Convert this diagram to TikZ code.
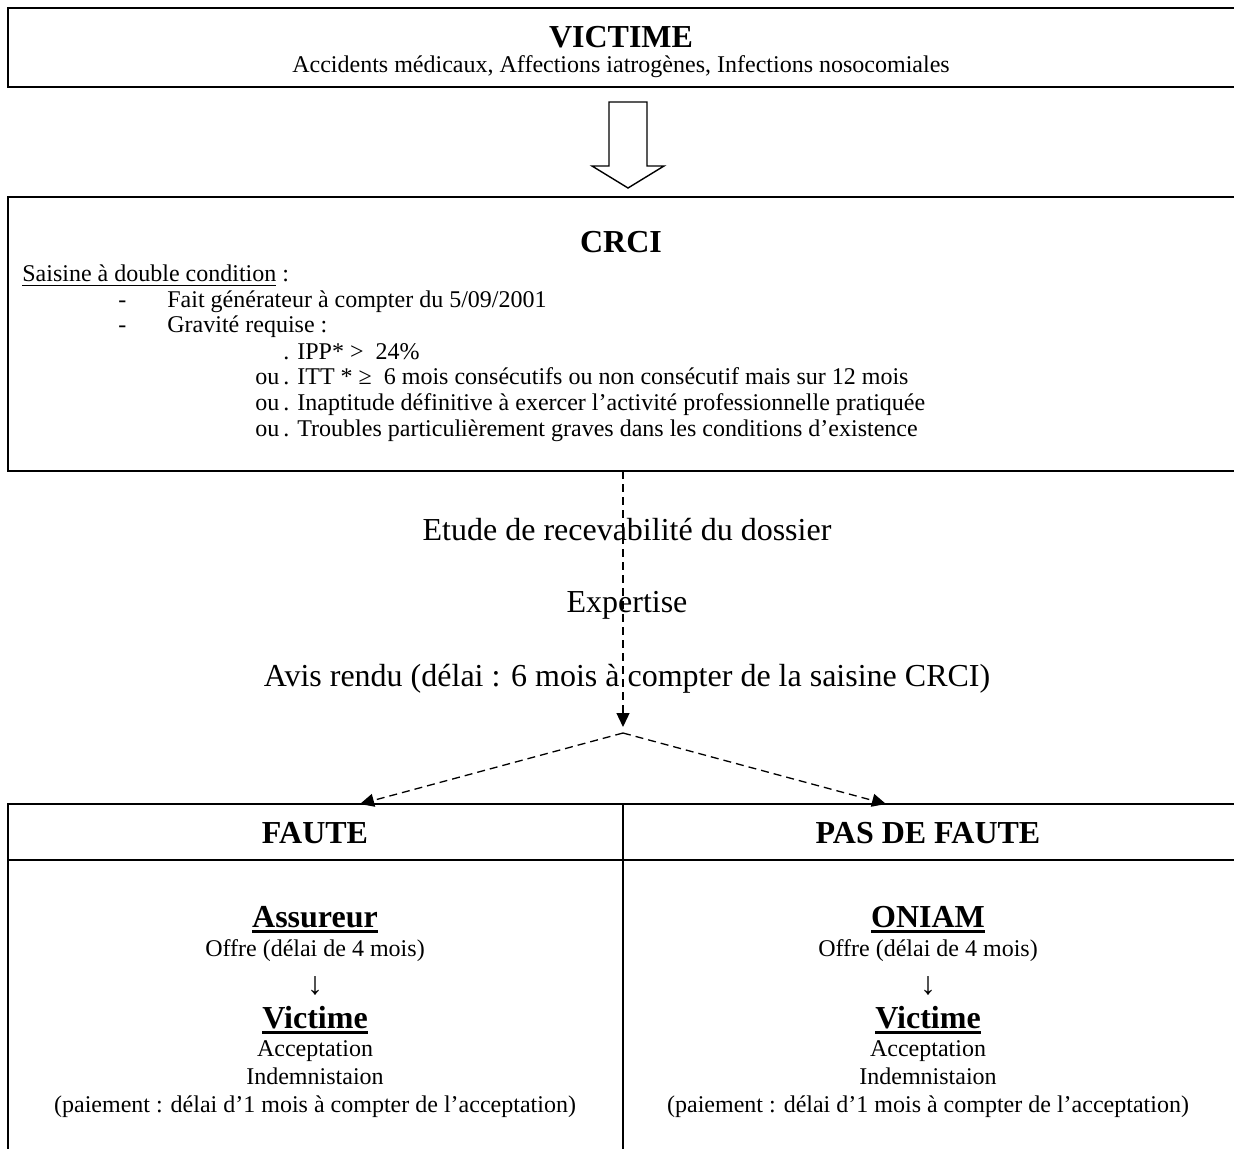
\documentclass[tikz,border=0pt]{standalone}
\usepackage{fontspec}
\setmainfont{Liberation Serif}
\usetikzlibrary{arrows.meta,positioning}

\newcommand{\uword}[2][0.6pt]{\setbox0\hbox{#2}\leavevmode\rlap{\vrule width\wd0 height -1.5pt depth \dimexpr1.5pt+#1\relax}\box0}

\begin{document}
\begin{tikzpicture}[
  x=0.5pt, y=-0.5pt,
  boxline/.style={line width=1pt},
  dashline/.style={line width=0.65pt, dash pattern=on 4pt off 2.5pt},
  arr/.style={-{Triangle[length=7pt, width=6.5pt]}},
  txt/.style={font=\fontsize{12}{14}\selectfont, inner sep=0pt},
  stage/.style={font=\fontsize{16}{19}\selectfont, inner sep=0pt},
  heading/.style={font=\fontsize{16}{19}\selectfont\bfseries, inner sep=0pt},
  downarr/.style={font=\fontsize{16}{19}\selectfont, inner sep=0pt},
]
  \path[use as bounding box, fill=white] (0,0) rectangle (1234,1149);

  % Victime
  \draw[boxline] (1234,8) -| (8,87) -- (1234,87);
  \node[heading, anchor=base] (victime) at (621,48) {VICTIME};
  \node[txt, anchor=base] (causes) at (621,73) {Accidents médicaux, Affections iatrogènes, Infections nosocomiales};

  % hollow arrow
  \draw[line width=0.7pt, line join=miter] (609,102) -- (647,102) -- (647,166) -- (664,166)
    -- (628,188) -- (592,166) -- (609,166) -- cycle;

  % CRCI
  \draw[boxline] (1234,197) -| (8,471) -- (1234,471);
  \node[heading, anchor=base] (crci) at (621,253) {CRCI};
  \node[txt, anchor=base west] (saisine) at (22,282) {\uword{Saisine à double condition}~:};
  \node[txt, anchor=base west] (fait) at (118,308) {\makebox[24.5pt][l]{-}Fait générateur à compter du 5/09/2001};
  \node[txt, anchor=base west] (gravite) at (118,333) {\makebox[24.5pt][l]{-}Gravité requise :};
  \node[txt, anchor=base west] (ipp) at (283,359) {. IPP* >\ \ 24\%};
  \node[txt, anchor=base west] (itt) at (255,385) {\makebox[14pt][l]{ou}. ITT * ≥\ \ 6 mois consécutifs ou non consécutif mais sur 12 mois};
  \node[txt, anchor=base west] (inapt) at (255,410) {\makebox[14pt][l]{ou}. Inaptitude définitive à exercer l’activité professionnelle pratiquée};
  \node[txt, anchor=base west] (troubles) at (255,436) {\makebox[14pt][l]{ou}. Troubles particulièrement graves dans les conditions d’existence};

  % procedure
  \coordinate (crcibot) at (623,471);
  \coordinate (fork) at (623,733);
  \node[stage, anchor=base] (etude) at (627,540) {Etude de recevabilité du dossier};
  \node[stage, anchor=base] (expertise) at (627,612) {Expertise};
  \node[stage, anchor=base] (avis) at (627,686) {Avis rendu (délai : 6 mois à compter de la saisine CRCI)};
  \draw[dashline, arr] (crcibot) -- ([yshift=3pt]fork);
  \coordinate (fauteL) at (360,804);
  \coordinate (fauteR) at (886,804);
  \draw[dashline, arr] (fork) -- (fauteL);
  \draw[dashline, arr] (fork) -- (fauteR);

  % table
  \draw[boxline] (1234,804) -- (8,804) -- (8,1149);
  \draw[boxline] (8,860) -- (1234,860);
  \draw[boxline] (623,804) -- (623,1149);
  \node[heading, anchor=base] (faute) at (315,843) {FAUTE};
  \node[heading, anchor=base] (pasfaute) at (928,843) {PAS DE FAUTE};

  % left column
  \node[heading, anchor=base] (assureur) at (315,927) {\uword[1.3pt]{Assureur}};
  \node[txt, anchor=base] (offreL) at (315,956) {Offre (délai de 4 mois)};
  \node[downarr, anchor=base] (downL) at (315,994) {↓};
  \node[heading, anchor=base] (victimeL) at (315,1028) {\uword[1.3pt]{Victime}};
  \node[txt, anchor=base] (acceptL) at (315,1056) {Acceptation};
  \node[txt, anchor=base] (indemL) at (315,1084) {Indemnistaion};
  \node[txt, anchor=base] (paieL) at (315,1112) {(paiement : délai d’1 mois à compter de l’acceptation)};

  % right column
  \node[heading, anchor=base] (oniam) at (928,927) {\uword[1.3pt]{ONIAM}};
  \node[txt, anchor=base] (offreR) at (928,956) {Offre (délai de 4 mois)};
  \node[downarr, anchor=base] (downR) at (928,994) {↓};
  \node[heading, anchor=base] (victimeR) at (928,1028) {\uword[1.3pt]{Victime}};
  \node[txt, anchor=base] (acceptR) at (928,1056) {Acceptation};
  \node[txt, anchor=base] (indemR) at (928,1084) {Indemnistaion};
  \node[txt, anchor=base] (paieR) at (928,1112) {(paiement : délai d’1 mois à compter de l’acceptation)};
\end{tikzpicture}
\end{document}
